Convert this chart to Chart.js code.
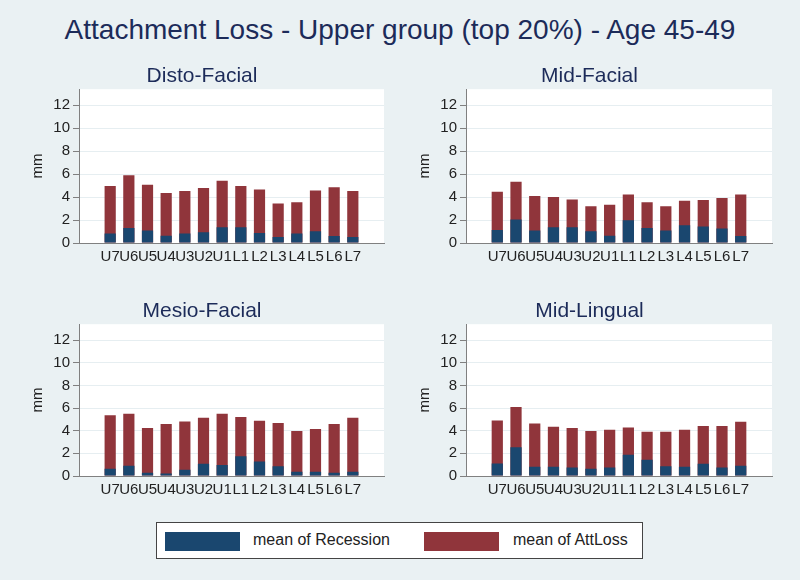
<!DOCTYPE html>
<html>
<head>
<meta charset="utf-8">
<script src="https://cdn.jsdelivr.net/npm/chart.js@4/dist/chart.umd.min.js"></script>
<style>
  body { margin: 0; background: #eaf1f3; font-family: "Liberation Sans", Arial, sans-serif; }
  #page { position: relative; width: 800px; height: 580px; overflow: hidden; }
  #mainTitle { position: absolute; left: 0; top: 14px; width: 800px; text-align: center;
    font-size: 28px; color: #1c2b59; }
  canvas { position: absolute; }
  #legend { position: absolute; left: 156px; top: 522px; width: 485px; height: 35px;
    background: #fff; border: 1px solid #444; font-size: 16px; color: #222; }
  .sw { position: absolute; top: 9px; width: 75px; height: 19px; }
  .lt { position: absolute; top: 8px; }
</style>
</head>
<body>
<div id="page">
  <div id="mainTitle">Attachment Loss - Upper group (top 20%) - Age 45-49</div>
  <canvas id="c1" width="370" height="213" style="left:20px;top:60px"></canvas>
  <canvas id="c2" width="371" height="213" style="left:407px;top:60px"></canvas>
  <canvas id="c3" width="370" height="211" style="left:20px;top:295px"></canvas>
  <canvas id="c4" width="371" height="211" style="left:407px;top:295px"></canvas>
  <div id="legend">
    <div class="sw" style="left:8px;background:#1a476f"></div>
    <div class="lt" style="left:96px">mean of Recession</div>
    <div class="sw" style="left:267px;background:#90353b"></div>
    <div class="lt" style="left:356px">mean of AttLoss</div>
  </div>
</div>
<script>
var teeth = ['U7', 'U6', 'U5', 'U4', 'U3', 'U2', 'U1', 'L1', 'L2', 'L3', 'L4', 'L5', 'L6', 'L7'];

// Disto-Facial
var distoRec = [0.82, 1.31, 1.08, 0.64, 0.82, 0.93, 1.37, 1.37, 0.88, 0.53, 0.82, 1.02, 0.61, 0.53];
var distoAtt = [4.96, 5.90, 5.08, 4.35, 4.53, 4.79, 5.43, 4.96, 4.67, 3.45, 3.56, 4.58, 4.85, 4.53];
// Mid-Facial
var midFRec = [1.14, 2.04, 1.08, 1.37, 1.37, 1.02, 0.64, 1.99, 1.31, 1.08, 1.55, 1.43, 1.26, 0.61];
var midFAtt = [4.47, 5.34, 4.09, 4.00, 3.80, 3.21, 3.33, 4.23, 3.56, 3.21, 3.68, 3.74, 3.91, 4.23];
// Mesio-Facial
var mesioRec = [0.64, 0.90, 0.29, 0.23, 0.55, 1.08, 0.96, 1.75, 1.28, 0.85, 0.38, 0.38, 0.29, 0.38];
var mesioAtt = [5.37, 5.49, 4.23, 4.58, 4.82, 5.14, 5.49, 5.20, 4.88, 4.67, 3.97, 4.15, 4.58, 5.14];
// Mid-Lingual
var midLRec = [1.10, 2.53, 0.82, 0.82, 0.76, 0.64, 0.76, 1.87, 1.43, 0.87, 0.82, 1.08, 0.76, 0.90];
var midLAtt = [4.90, 6.10, 4.64, 4.35, 4.23, 3.97, 4.09, 4.29, 3.91, 3.91, 4.09, 4.41, 4.41, 4.79];

var yTicks = [0, 2, 4, 6, 8, 10, 12];

var navy = '#1a476f';
var maroon = '#90353b';

// white plot region like stata's plotregion
var plotBg = {
	id: 'plotBg',
	beforeDraw: function (chart) {
		var a = chart.chartArea;
		var ctx = chart.ctx;
		ctx.save();
		ctx.fillStyle = '#ffffff';
		ctx.fillRect(a.left, a.top, a.right - a.left, a.bottom - a.top);
		ctx.restore();
	}
};

function points(vals) {
	return vals.map(function (v, i) { return { x: i, y: v }; });
}

function makePanel(id, title, rec, att) {
	var ctx = document.getElementById(id).getContext('2d');
	new Chart(ctx, {
		type: 'bar',
		data: {
			datasets: [
				{ label: 'mean of Recession', data: points(rec), backgroundColor: navy, order: 0 },
				{ label: 'mean of AttLoss', data: points(att), backgroundColor: maroon, order: 1 }
			]
		},
		options: {
			responsive: false,
			animation: false,
			devicePixelRatio: 1,
			barPercentage: 0.6,
			categoryPercentage: 1,
			layout: { padding: { left: 0, right: 6, top: 0, bottom: 0 } },
			plugins: {
				legend: { display: false },
				tooltip: { enabled: false },
				title: {
					display: true,
					text: title,
					color: '#1c2b59',
					font: { family: 'Liberation Sans', size: 21, weight: 'normal' },
					padding: { top: 4, bottom: 0 }
				}
			},
			scales: {
				x: {
					type: 'linear',
					stacked: true,
					min: -1.16,
					max: 14.16,
					grid: { display: false, drawTicks: false },
					border: { display: true, color: '#808080', width: 1 },
					ticks: {
						stepSize: 1,
						includeBounds: false,
						autoSkip: false,
						maxRotation: 0,
						minRotation: 0,
						padding: 5,
						color: '#222',
						font: { family: 'Liberation Sans', size: 15 },
						callback: function (v) { return teeth[v] !== undefined ? teeth[v] : ''; }
					},
					afterFit: function (scale) { scale.height = 30; }
				},
				y: {
					stacked: false,
					min: 0,
					max: 13.4,
					grid: { color: '#e6eef1', tickColor: '#808080', tickLength: 6, drawTicks: true },
					border: { display: true, color: '#808080', width: 1 },
					ticks: {
						stepSize: 2,
						includeBounds: false,
						padding: 3,
						color: '#222',
						font: { family: 'Liberation Sans', size: 15 },
						callback: function (v) { return yTicks.indexOf(v) >= 0 ? v : ''; }
					},
					title: {
						display: true,
						text: 'mm',
						color: '#222',
						font: { family: 'Liberation Sans', size: 15 },
						padding: { top: 9, bottom: 0 }
					},
					afterFit: function (scale) { scale.width = 59; }
				}
			}
		},
		plugins: [plotBg]
	});
}

makePanel('c1', 'Disto-Facial', distoRec, distoAtt);
makePanel('c2', 'Mid-Facial', midFRec, midFAtt);
makePanel('c3', 'Mesio-Facial', mesioRec, mesioAtt);
makePanel('c4', 'Mid-Lingual', midLRec, midLAtt);
</script>
</body>
</html>
